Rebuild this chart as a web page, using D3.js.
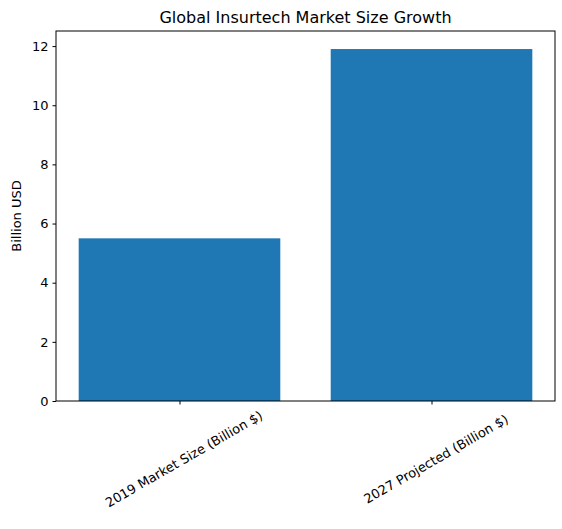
<!DOCTYPE html>
<html><head><meta charset="utf-8">
<script src="https://cdn.jsdelivr.net/npm/d3@7"></script>
<style>body{margin:0;background:#fff}text{font-family:"DejaVu Sans",sans-serif}</style>
</head><body><div id="chart"></div>
<script>
var categories = ["2019 Market Size (Billion $)", "2027 Projected (Billion $)"];
var values = [5.5, 11.9];
var yTicks = [0, 2, 4, 6, 8, 10, 12];

var W = 562, H = 529, mLeft = 56, mRight = 555, mTop = 31, mBottom = 401;
var svg = d3.select("#chart").append("svg").attr("width", W).attr("height", H);

var x = d3.scaleLinear().domain([-0.49, 1.49]).range([mLeft, mRight]);
var y = d3.scaleLinear().domain([0, 12.51]).range([mBottom, mTop]);

svg.selectAll(".bar").data(values).enter().append("rect")
  .attr("x", function(d, i) { return x(i - 0.4); })
  .attr("width", x(0.4) - x(-0.4))
  .attr("y", function(d) { return y(d); })
  .attr("height", function(d) { return mBottom - y(d); })
  .attr("fill", "#1f77b4");

var ya = svg.append("g").attr("transform", "translate(" + mLeft + ",0)")
  .call(d3.axisLeft(y).tickValues(yTicks).tickSize(3.5).tickPadding(4));
ya.selectAll("text").style("font-size", "13px").attr("fill", "#000");

var xa = svg.append("g").attr("transform", "translate(0," + mBottom + ")")
  .call(d3.axisBottom(x).tickValues([0, 1]).tickFormat(function(d) { return categories[d]; }).tickSize(3.5));
xa.selectAll("text").style("font-size", "13px").attr("fill", "#000")
  .attr("text-anchor", "middle").attr("y", 0).attr("dy", "0.35em")
  .attr("transform", "translate(4,58) rotate(-30)");
svg.selectAll(".domain").remove();

svg.append("rect").attr("x", mLeft).attr("y", mTop).attr("width", mRight - mLeft).attr("height", mBottom - mTop)
  .attr("fill", "none").attr("stroke", "#000").attr("stroke-width", 1);

svg.append("text").attr("x", (mLeft + mRight) / 2).attr("y", 23).attr("text-anchor", "middle")
  .style("font-size", "16px").text("Global Insurtech Market Size Growth");
svg.append("text").attr("transform", "translate(21," + (mTop + mBottom) / 2 + ") rotate(-90)")
  .attr("text-anchor", "middle").style("font-size", "13px").text("Billion USD");
</script></body></html>
